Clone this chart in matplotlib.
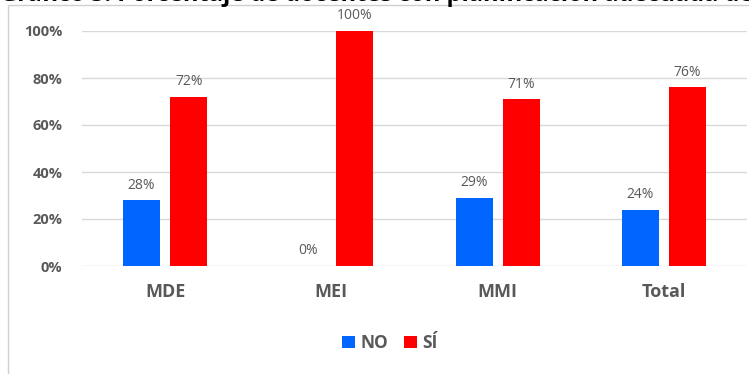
import matplotlib.pyplot as plt
import numpy as np
from matplotlib.patches import Rectangle

categories = ["MDE", "MEI", "MMI", "Total"]
no_vals = [28, 0, 29, 24]
si_vals = [72, 100, 71, 76]
series_names = ["NO", "SÍ"]
y_ticks = [0, 20, 40, 60, 80, 100]
title = "Gráfico 5. Porcentaje de docentes con planificación adecuada de la sesión"

plt.rcParams['font.family'] = ['Open Sans', 'DejaVu Sans']
gray = "#595959"
blue = "#0066FF"
red = "#FF0000"

fig = plt.figure(figsize=(7.49, 3.74), dpi=100)
ax = fig.add_axes([82 / 749, 1 - 266 / 374, 665 / 749, 235 / 374])

x = np.arange(len(categories))
w = 0.223
off = 0.1415
b1 = ax.bar(x - off, no_vals, w, color=blue, label=series_names[0], zorder=3)
b2 = ax.bar(x + off, si_vals, w, color=red, label=series_names[1], zorder=3)

for bars in (b1, b2):
    for rect in bars:
        h = rect.get_height()
        ax.text(rect.get_x() + rect.get_width() / 2, h + 3.2, f"{h:.0f}%",
                ha='center', va='bottom', fontsize=10, color=gray)

ax.set_ylim(0, 100)
ax.set_xlim(-0.5, len(categories) - 0.5)
ax.set_yticks(y_ticks)
ax.set_yticklabels([f"{t}%" for t in y_ticks], fontsize=10.5, fontweight='bold', color=gray)
ax.set_xticks(x)
ax.set_xticklabels(categories, fontsize=13, fontweight='bold', color=gray)
ax.tick_params(axis='both', length=0)
ax.tick_params(axis='y', pad=14)
ax.tick_params(axis='x', pad=12)
ax.grid(axis='y', color='#d9d9d9', linewidth=1, zorder=0)
for s in ax.spines.values():
    s.set_visible(False)

leg = fig.legend(handles=[b1, b2], loc='center', bbox_to_anchor=(390 / 749, 1 - 343 / 374),
                 ncol=2, frameon=False, handlelength=0.75, handleheight=0.75,
                 handletextpad=0.3, columnspacing=0.9,
                 prop={'size': 12.5, 'weight': 'bold'})
for t in leg.get_texts():
    t.set_color(gray)

# chart border, partly cut off by the image edge
fig.patches.append(Rectangle((8 / 749, -0.1), 1.2, 1 - 5 / 374 + 0.1, transform=fig.transFigure,
                             fill=False, edgecolor='#d0d0d0', linewidth=1))

# title cut off at the top edge (only its lower edge shows in the source)
fig.text(0.0, 1 - 6.8 / 374, title, ha='left', va='bottom', fontsize=17,
         fontweight='bold', color='black')

fig.savefig("out.png", dpi=100, facecolor='white')
